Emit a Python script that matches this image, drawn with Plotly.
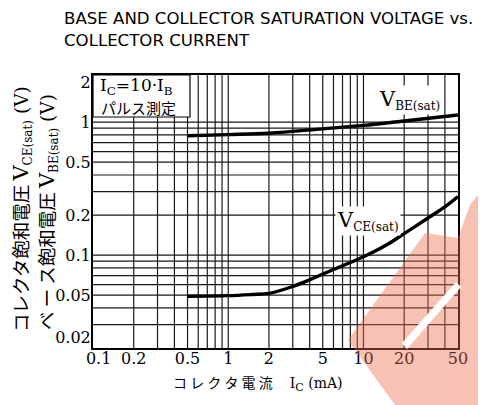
import math
import plotly.graph_objects as go

# ---------------- data ----------------
ic_be = [0.5, 1, 2, 5, 10, 20, 50]                      # collector current (mA)
vbe_sat = [0.79, 0.805, 0.825, 0.89, 0.945, 1.02, 1.13]  # V_BE(sat) (V)

ic_ce = [0.5, 1, 1.5, 2, 3, 4, 5, 7, 10, 15, 20, 30, 40, 50]
vce_sat = [0.049, 0.0495, 0.0505, 0.0515, 0.058, 0.065, 0.072,
           0.083, 0.097, 0.12, 0.145, 0.19, 0.23, 0.275]

x_tick_vals = [0.1, 0.2, 0.5, 1, 2, 5, 10, 20, 50]
x_tick_text = ["\u2002\u20090.1", "0.2", "0.5", "1", "2", "5", "10", "20", "50"]
y_tick_vals = [0.02, 0.05, 0.1, 0.2, 0.5, 1, 2]
y_tick_text = ["0.02<br>\u2002", "0.05", "0.1", "0.2", "0.5", "1", "2"]

x_grid = [0.2, 0.3, 0.4, 0.5, 0.6, 0.7, 0.8, 0.9,
          1, 2, 3, 4, 5, 6, 7, 8, 9, 10, 20, 30, 40]
y_grid = [0.03, 0.04, 0.05, 0.06, 0.07, 0.08, 0.09,
          0.1, 0.2, 0.3, 0.4, 0.5, 0.6, 0.7, 0.8, 0.9, 1]

X_MIN, X_MAX = 0.1, 50
Y_MIN, Y_MAX = 0.02, 2.26

# ---------------- layout constants ----------------
OFF = 8                      # default page body margin
W, H = 486 - OFF, 405 - OFF
ML, MT = 93 - OFF, 75 - OFF
PW, PH = 365, 273
MR, MB = W - ML - PW, H - MT - PH

def px(xs, ys):
    """screen pixel -> paper coords"""
    return (xs - OFF - ML) / PW, (MT + PH - (ys - OFF)) / PH

fig = go.Figure()

# grid as traces
gx, gy = [], []
for v in x_grid:
    gx += [v, v, None]
    gy += [Y_MIN, Y_MAX, None]
for v in y_grid:
    gx += [X_MIN, X_MAX, None]
    gy += [v, v, None]
fig.add_trace(go.Scatter(x=gx, y=gy, mode="lines",
                         line=dict(color="#1a1a1a", width=1.2),
                         hoverinfo="skip", showlegend=False))

fig.add_trace(go.Scatter(x=ic_be, y=vbe_sat, mode="lines", line_shape="spline",
                         line=dict(color="black", width=3.4), showlegend=False))
fig.add_trace(go.Scatter(x=ic_ce, y=vce_sat, mode="lines", line_shape="spline",
                         line=dict(color="black", width=3.4), showlegend=False))

SERIF = "DejaVu Serif"
JP = "Noto Sans CJK JP"

fig.update_xaxes(type="log", range=[math.log10(X_MIN), math.log10(X_MAX)],
                 tickmode="array", tickvals=x_tick_vals, ticktext=x_tick_text,
                 showgrid=False, zeroline=False, showline=True, mirror=True,
                 linecolor="black", linewidth=2, ticks="", ticklabelstandoff=-5,
                 tickfont=dict(family=SERIF, size=16, color="black"))
fig.update_yaxes(type="log", range=[math.log10(Y_MIN), math.log10(Y_MAX)],
                 tickmode="array", tickvals=y_tick_vals, ticktext=y_tick_text,
                 showgrid=False, zeroline=False, showline=True, mirror=True,
                 linecolor="black", linewidth=2, ticks="", ticklabelstandoff=-3,
                 tickfont=dict(family=SERIF, size=16, color="black"))

shapes = []
# condition box top-left
x0, y0 = px(93, 117)
x1, y1 = px(190, 75)
shapes.append(dict(type="rect", xref="paper", yref="paper", x0=x0, y0=y0, x1=x1, y1=y1,
                   fillcolor="white", line=dict(color="black", width=1.2), layer="above"))

def poly(points, **kw):
    pts = [px(a, b) for a, b in points]
    path = "M " + " L ".join(f"{a:.4f},{b:.4f}" for a, b in pts) + " Z"
    d = dict(type="path", xref="paper", yref="paper", path=path, layer="above")
    d.update(kw)
    return d

# watermark
shapes.append(poly([(348, 340), (425, 233), (458, 238), (470, 205), (486, 185),
                    (486, 405), (395, 405)],
                   fillcolor="#EB6B4B", opacity=0.42, line=dict(width=0)))
shapes.append(poly([(402, 343), (456, 282), (461, 287), (407, 349)],
                   fillcolor="white", line=dict(width=0)))

anns = []
def ann(xs, ys, text, **kw):
    xa, ya = px(xs, ys)
    d = dict(xref="paper", yref="paper", x=xa, y=ya, text=text, showarrow=False)
    d.update(kw)
    anns.append(d)

ann(62, 7, "BASE AND COLLECTOR SATURATION VOLTAGE vs.<br>COLLECTOR CURRENT",
    xanchor="left", yanchor="top", align="left",
    font=dict(family="DejaVu Sans", size=16.6, color="black"))

ann(98, 87, "I<sub>C</sub>=10·I<sub>B</sub>", xanchor="left", yanchor="middle",
    font=dict(family=SERIF, size=17, color="black"))
ann(99, 107, "パルス測定", xanchor="left", yanchor="middle",
    font=dict(family=JP, size=15, color="black"))

SUB = '<sub><span style="font-size:12px">{}</span></sub>'

ann(409, 100, "V" + SUB.format("BE(sat)"), xanchor="center", yanchor="middle",
    bgcolor="white", font=dict(family=SERIF, size=21, color="black"))
ann(368, 221, "V" + SUB.format("CE(sat)"), xanchor="center", yanchor="middle",
    bgcolor="white", font=dict(family=SERIF, size=21, color="black"))

YT = ('{jp} <span style="font-family:' + SERIF + ';font-size:21px">V</span>'
      '<span style="font-family:' + SERIF + '"><sub><span style="font-size:12px">{sub}</span></sub>'
      ' (V)</span>')
ann(21, 209, YT.format(jp="コレクタ飽和電圧", sub="CE(sat)"),
    textangle=-90, xanchor="center", yanchor="middle",
    font=dict(family=JP, size=18.5, color="black"))
ann(47, 212, YT.format(jp="ベ ー ス飽和電圧", sub="BE(sat)"),
    textangle=-90, xanchor="center", yanchor="middle",
    font=dict(family=JP, size=18.5, color="black"))

ann(258, 383, 'コ レ ク タ 電 流　 <span style="font-family:' + SERIF + '">I'
    '<sub><span style="font-size:11px">C</span></sub> (mA)</span>',
    xanchor="center", yanchor="middle",
    font=dict(family=JP, size=14, color="black"))

fig.update_layout(width=W, height=H, margin=dict(l=ML, r=MR, t=MT, b=MB),
                  plot_bgcolor="white", paper_bgcolor="white",
                  shapes=shapes, annotations=anns, showlegend=False)

fig.write_html("out.html")
